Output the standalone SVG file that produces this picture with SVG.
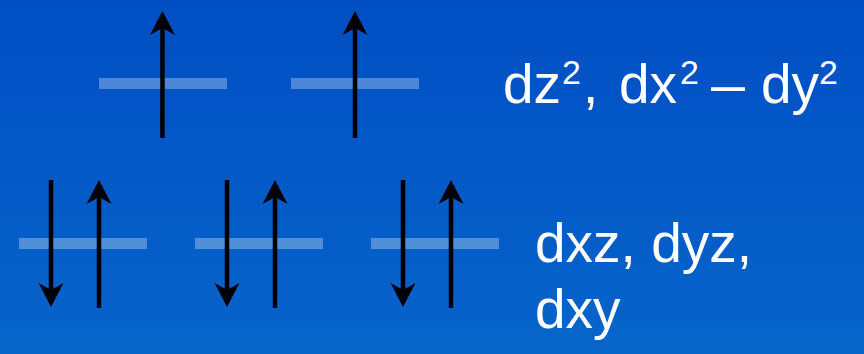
<svg xmlns="http://www.w3.org/2000/svg" xmlns:xlink="http://www.w3.org/1999/xlink" width="864" height="354" viewBox="0 0 864 354">
<style>
.lvl{fill:#ffffff;fill-opacity:0.3}
.shaft{stroke:#000;stroke-width:4.5;fill:none}
.head{fill:#000}
.lbl{font-family:"Liberation Sans",Arial,sans-serif;fill:#fff;font-size:55px}
.sup{font-family:"Liberation Sans",Arial,sans-serif;fill:#fff;font-size:34px}
</style>
<defs>
<linearGradient id="bg" x1="0" y1="0" x2="0" y2="1">
<stop offset="0" stop-color="#004EC4"/>
<stop offset="1" stop-color="#0765CA"/>
</linearGradient>
<path id="up" class="head" d="M0,0 L12.5,24 L0,17 L-12.5,24 Z"/>
</defs>
<rect width="864" height="354" fill="url(#bg)"/>
<g id="level-eg1"><rect class="lvl" x="99" y="78" width="128" height="11"/></g>
<g id="level-eg2"><rect class="lvl" x="291" y="78" width="128" height="11"/></g>
<g id="level-t2g1"><rect class="lvl" x="19" y="238" width="128" height="11"/></g>
<g id="level-t2g2"><rect class="lvl" x="195" y="238" width="128" height="11"/></g>
<g id="level-t2g3"><rect class="lvl" x="371" y="238" width="128" height="11"/></g>
<g id="connectors">
<line class="shaft" x1="162.5" y1="138" x2="162.5" y2="26"/>
<use xlink:href="#up" x="162.5" y="11"/>
<line class="shaft" x1="355" y1="138" x2="355" y2="26"/>
<use xlink:href="#up" x="355" y="11"/>
<line class="shaft" x1="51" y1="180" x2="51" y2="292"/>
<use xlink:href="#up" transform="translate(51,307) rotate(180)"/>
<line class="shaft" x1="99" y1="308" x2="99" y2="195"/>
<use xlink:href="#up" x="99" y="180"/>
<line class="shaft" x1="227" y1="180" x2="227" y2="292"/>
<use xlink:href="#up" transform="translate(227,307) rotate(180)"/>
<line class="shaft" x1="275" y1="308" x2="275" y2="195"/>
<use xlink:href="#up" x="275" y="180"/>
<line class="shaft" x1="403" y1="180" x2="403" y2="292"/>
<use xlink:href="#up" transform="translate(403,307) rotate(180)"/>
<line class="shaft" x1="451" y1="308" x2="451" y2="195"/>
<use xlink:href="#up" x="451" y="180"/>
</g>
<g id="label-eg">
<text class="lbl" x="503" y="103">dz</text>
<text class="sup" x="562" y="84">2</text>
<text class="lbl" x="583" y="103">,</text>
<text class="lbl" x="619" y="103">dx</text>
<text class="sup" x="680" y="84">2</text>
<text class="lbl" x="711" y="103" textLength="34" lengthAdjust="spacingAndGlyphs">–</text>
<text class="lbl" x="761" y="103">dy</text>
<text class="sup" x="819" y="84">2</text>
</g>
<g id="label-t2g">
<text class="lbl" x="535" y="262">dxz, dyz,</text>
<text class="lbl" x="535" y="328">dxy</text>
</g>
</svg>
